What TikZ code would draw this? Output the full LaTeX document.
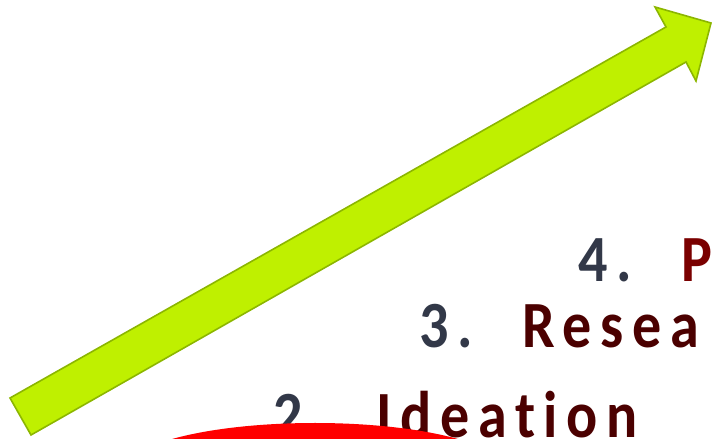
\documentclass[tikz,border=0pt]{standalone}
\usepackage{fontspec}
\setmainfont{Carlito}
\usepackage{tikz}
\usetikzlibrary{calc}
\definecolor{ArrowGreen}{RGB}{191,240,0}
\definecolor{ArrowEdge}{RGB}{140,182,0}
\definecolor{NumSlate}{RGB}{50,56,72}
\definecolor{StepRed}{RGB}{122,0,0}
\definecolor{StepMaroon}{RGB}{75,0,0}
\definecolor{BlobRed}{RGB}{255,0,0}
\newcommand{\stepgap}{\hspace{23pt}}

\begin{document}
\begin{tikzpicture}[x=1pt,y=1pt,
  steptext/.style={anchor=base west,inner sep=0pt,xscale=0.88,transform shape,
    font=\fontsize{66}{66}\selectfont\bfseries\addfontfeature{LetterSpace=15,Ligatures=NoCommon}}]
  \useasboundingbox (0,0) rectangle (713,439);
  \clip (0,0) rectangle (713,439);
  \draw[line width=1.6pt,ArrowEdge,fill=ArrowGreen,line join=miter]
    (10,41) -- (666,412) -- (655,432) -- (711,416)
    -- (696,358) -- (686,377) -- (31,4) -- cycle;
  \node[steptext] (four) at (578,157) {\color{NumSlate}4. \stepgap\color{StepRed}P};
  \node[steptext] (three) at (419,91) {\color{NumSlate}3. \stepgap\color{StepMaroon}Resea};
  \node[steptext] (two) at (273,1) {\color{NumSlate}2. \stepgap\color{StepMaroon}Ideation};
  \fill[BlobRed] (315,-31) ellipse [x radius=190,y radius=47];
\end{tikzpicture}
\end{document}
